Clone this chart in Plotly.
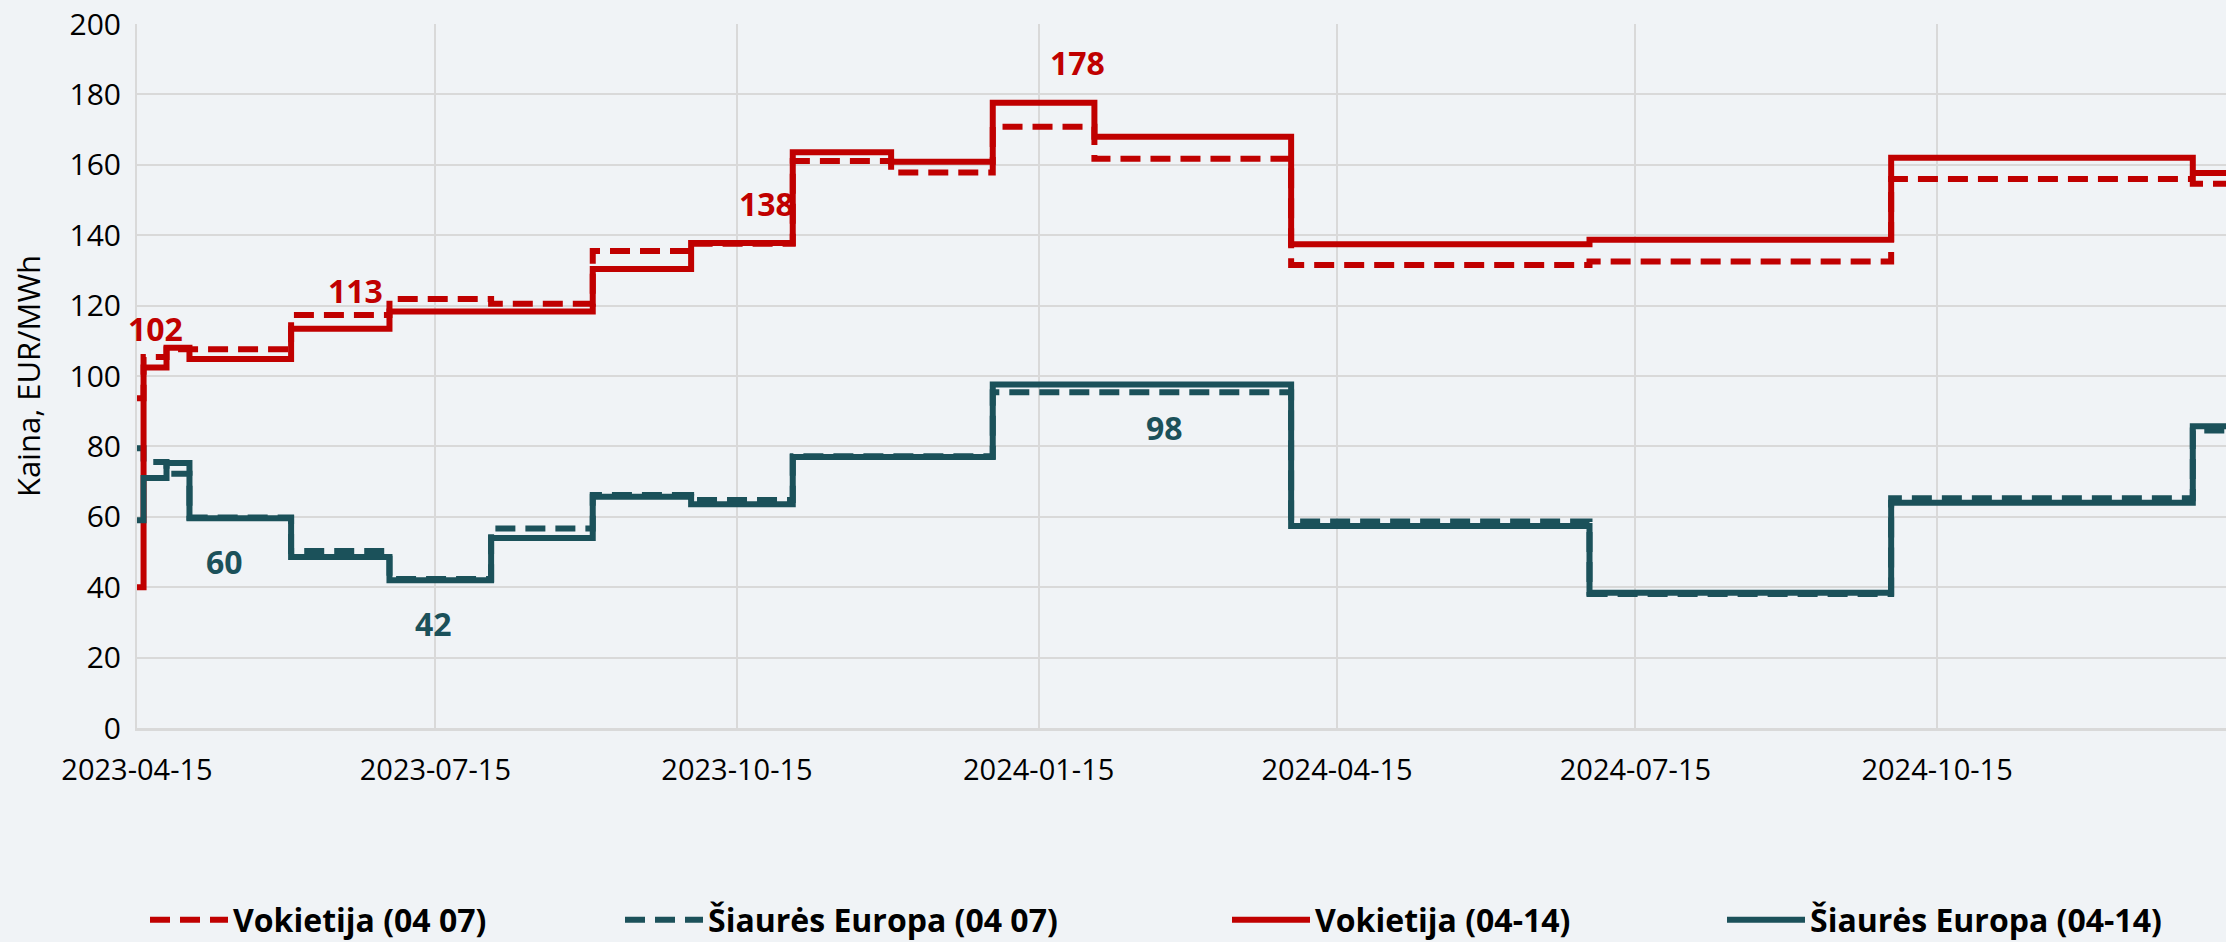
import plotly.graph_objects as go

# ---- data ----
period_starts = ["2023-04-15", "2023-04-17", "2023-04-24", "2023-05-01", "2023-06-01",
                 "2023-07-01", "2023-08-01", "2023-09-01", "2023-10-01", "2023-11-01",
                 "2023-12-01", "2024-01-01", "2024-02-01", "2024-04-01", "2024-07-01",
                 "2024-10-01", "2025-01-01"]
period_end = "2025-02-01"

vokietija_0407 = [93.7, 105.4, 107.6, 107.6, 117.3, 121.9, 120.5, 135.5, 137.6, 161.1,
                  157.8, 170.8, 161.7, 131.5, 132.5, 156.0, 154.6]
siaures_0407 = [79.5, 75.6, 72.2, 59.8, 50.3, 42.3, 56.7, 66.2, 64.8, 77.2,
                77.2, 95.4, 95.4, 58.7, 38.1, 65.3, 84.5]
vokietija_0414 = [40.0, 102.4, 108.0, 104.8, 113.4, 118.3, 118.3, 130.4, 137.8, 163.6,
                  160.9, 177.6, 168.0, 137.4, 138.7, 162.0, 157.7]
siaures_0414 = [59.0, 71.0, 75.3, 59.6, 48.6, 42.0, 54.0, 65.7, 63.6, 77.0,
                77.0, 97.6, 97.6, 57.4, 38.4, 64.0, 85.7]

series_names = ["Vokietija (04 07)", "Šiaurės Europa (04 07)",
                "Vokietija (04-14)", "Šiaurės Europa (04-14)"]

tick_dates = ["2023-04-15", "2023-07-15", "2023-10-15", "2024-01-15",
              "2024-04-15", "2024-07-15", "2024-10-15", "2025-01-15"]
y_ticks = list(range(0, 201, 20))

RED = "#C00000"
TEAL = "#1B515A"
BG = "#F0F3F6"
GRID = "#D9D9D9"
FONT = "Open Sans"

x_vals = period_starts + [period_end]

def ext(v):
    return v + [v[-1]]

fig = go.Figure()
styles = [
    (vokietija_0407, RED, "dash", "legend"),
    (siaures_0407, TEAL, "dash", "legend2"),
    (vokietija_0414, RED, "solid", "legend3"),
    (siaures_0414, TEAL, "solid", "legend4"),
]
for name, (vals, col, dash, lg) in zip(series_names, styles):
    fig.add_trace(go.Scatter(
        x=x_vals, y=ext(vals), mode="lines", name=name,
        line=dict(color=col, width=6, shape="hv",
                  dash="20px,10px" if dash == "dash" else "solid"),
        legend=lg,
    ))

# value labels
labels = [
    ("102", "2023-04-20 19:00", 113.4, RED),
    ("113", "2023-06-20 12:00", 124.4, RED),
    ("138", "2023-10-24 02:00", 149.1, RED),
    ("178", "2024-01-26 17:00", 189.2, RED),
    ("60", "2023-05-11 17:00", 47.2, TEAL),
    ("42", "2023-07-14 07:00", 29.8, TEAL),
    ("98", "2024-02-22 12:00", 85.5, TEAL),
]
for txt, xd, yv, col in labels:
    fig.add_annotation(x=xd, y=yv, text=f"<b>{txt}</b>", showarrow=False,
                       font=dict(family=FONT, size=32, color=col),
                       xanchor="center", yanchor="middle")

W, H = 2226, 942
ML, MR, MT, MB = 137, 0, 24, 214
pw = W - ML - MR
ph = H - MT - MB

legend_left_px = [150, 625, 1232, 1727]
legend_y_px = 920
lg_common = dict(orientation="h", xanchor="left", yanchor="middle",
                 bgcolor="rgba(0,0,0,0)", itemwidth=78,
                 font=dict(family=FONT, size=32, color="#000000", weight="bold"))
for i, key in enumerate(["legend", "legend2", "legend3", "legend4"]):
    fig.update_layout(**{key: dict(x=(legend_left_px[i] - 5 - ML) / pw,
                                   y=(MT + ph - legend_y_px) / ph, **lg_common)})

fig.update_layout(
    width=W, height=H,
    margin=dict(l=ML, r=MR, t=MT, b=MB, autoexpand=False),
    paper_bgcolor=BG, plot_bgcolor=BG,
    font=dict(family=FONT, size=29, color="#000000"),
    showlegend=True,
    xaxis=dict(
        type="date",
        range=["2023-04-15", "2025-01-11 03:00"],
        tickvals=tick_dates, ticktext=tick_dates,
        showgrid=True, gridcolor=GRID, gridwidth=1.6,
        showline=True, linecolor=GRID, linewidth=2.5,
        ticks="outside", ticklen=14, tickcolor="rgba(0,0,0,0)",
        tickfont=dict(family=FONT, size=29, color="#000000"),
        zeroline=False,
    ),
    yaxis=dict(
        range=[0, 200], tickvals=y_ticks,
        showgrid=True, gridcolor=GRID, gridwidth=1.6,
        showline=True, linecolor=GRID, linewidth=2,
        ticks="outside", ticklen=8, tickcolor="rgba(0,0,0,0)",
        tickfont=dict(family=FONT, size=30, color="#000000"),
        zeroline=False,
        title=dict(text="Kaina, EUR/MWh", font=dict(family=FONT, size=31, color="#000000"),
                   standoff=20),
    ),
)

fig.write_html("out.html", config={"displayModeBar": False},
               post_script="document.body.style.margin='0';document.body.style.overflow='hidden';")
